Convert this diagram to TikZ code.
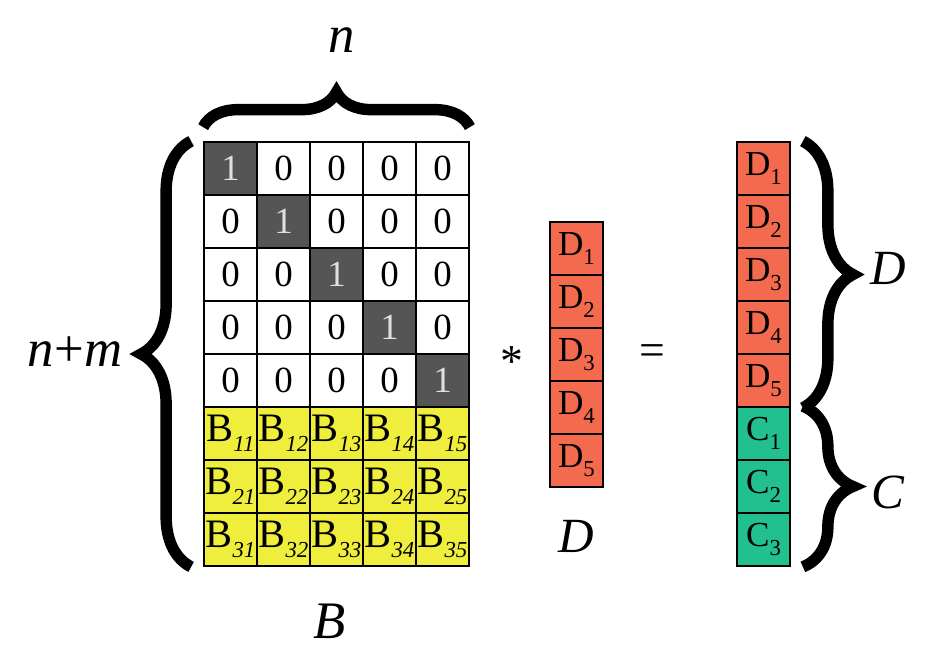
\documentclass[tikz,border=0pt]{standalone}
\usepackage{fontspec}
\setmainfont{Liberation Serif}
\usetikzlibrary{positioning,calc,decorations.pathreplacing}

\definecolor{diagcell}{HTML}{555555}
\definecolor{bfill}{HTML}{F0EE3C}
\definecolor{dfill}{HTML}{F46A4E}
\definecolor{cfill}{HTML}{22C08E}

\newcommand{\lowidx}[1]{\raisebox{-0.55ex}{\fontsize{13}{13}\selectfont #1}}

\begin{document}
\begin{tikzpicture}[
  x=0.02cm, y=0.02cm,
  cell/.style={draw, line width=1pt, fill=white, minimum width=1.06cm, minimum height=1.06cm, inner sep=0pt, font=\fontsize{21}{21}\selectfont},
  onecell/.style={cell, fill=diagcell, text=white!88!black},
  bcell/.style={cell, fill=bfill, font=\fontsize{23}{23}\selectfont},
  dcell/.style={cell, fill=dfill, font=\fontsize{20}{20}\selectfont},
  ccell/.style={cell, fill=cfill, font=\fontsize{20}{20}\selectfont},
  bigbrace/.style={decorate, decoration={brace, amplitude=#1}, line width=6.5pt},
  biglabel/.style={font=\fontsize{30}{30}\selectfont\itshape},
  veclabel/.style={font=\fontsize{28}{28}\selectfont\itshape},
  opsign/.style={font=\fontsize{26}{26}\selectfont}
]
\useasboundingbox (0,0) rectangle (948,-650);

% identity block and B block
\foreach \r in {1,...,5}
  \foreach \c in {1,...,5} {
    \ifnum\r=\c
      \node[onecell] (m-\r-\c) at ({177.5+53*\c},{-115.5-53*\r}) {1};
    \else
      \node[cell] (m-\r-\c) at ({177.5+53*\c},{-115.5-53*\r}) {0};
    \fi
  }
\foreach \r in {1,2,3}
  \foreach \c in {1,...,5}
    \node[bcell] (b-\r-\c) at ({177.5+53*\c},{-115.5-53*(\r+5)}) {B\lowidx{\itshape\r\c}};

% vector D
\foreach \k in {1,...,5}
  \node[dcell] (d-\k) at (576.5,{-195.5-53*\k}) {D\lowidx{\k}};

% result vector
\foreach \k in {1,...,5}
  \node[dcell] (r-\k) at (763.5,{-115.5-53*\k}) {D\lowidx{\k}};
\foreach \k in {1,2,3}
  \node[ccell] (r-\the\numexpr\k+5\relax) at (763.5,{-115.5-53*(\k+5)}) {C\lowidx{\k}};

% braces
\draw[bigbrace=0.7cm] ($(m-1-1.north west)+(0,14)$) -- ($(m-1-5.north east)+(0,14)$);
\draw[bigbrace=1cm] ($(b-3-1.south west)+(-12,0)$) -- ($(m-1-1.north west)+(-12,0)$);
\draw[bigbrace=1cm] ($(r-1.north east)+(12,0)$) -- ($(r-5.south east)+(12,0)$);
\draw[bigbrace=1cm] ($(r-6.north east)+(12,0)$) -- ($(r-8.south east)+(12,0)$);

% labels
\node[biglabel] (lab-n) at (342,-40) {n};
\node[biglabel] (lab-nm) at (75,-352) {n\upshape+\itshape m};
\node[biglabel] (lab-b) at (330,-621) {B};
\node[veclabel, below=15pt of d-5] (lab-d) {D};
\node[veclabel] (lab-rd) at (888,-268) {D};
\node[veclabel] (lab-rc) at (888,-492) {C};
\node[opsign] (times) at (512,-362) {*};
\node[opsign] (equals) at (652,-355) {=};
\end{tikzpicture}
\end{document}
